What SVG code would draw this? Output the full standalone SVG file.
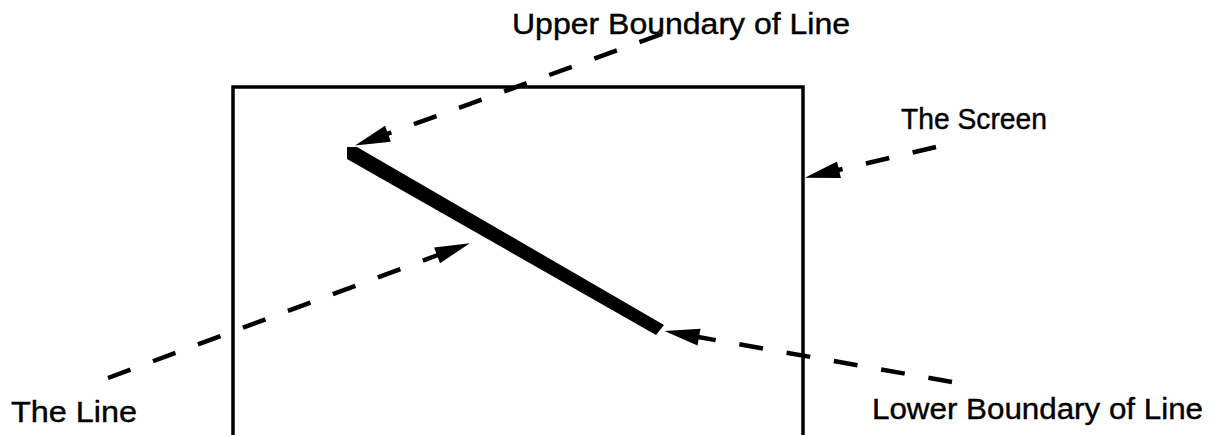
<svg xmlns="http://www.w3.org/2000/svg" width="1225" height="435" viewBox="0 0 1225 435">
  <style>
    .lbl { font-family: "Liberation Sans", Arial, Helvetica, sans-serif; font-size: 29px; fill: #000; stroke: #000; stroke-width: 0.4; }
    .dash { fill: none; stroke: #000; stroke-width: 4.5; stroke-dasharray: 24 24; marker-end: url(#arrow); }
  </style>
  <defs>
    <marker id="arrow" markerUnits="userSpaceOnUse" markerWidth="40" markerHeight="20" refX="1" refY="0" viewBox="-1 -10 40 20" orient="auto" overflow="visible">
      <path d="M35,0 L0,-8.5 L0,8.5 Z" fill="#000"/>
    </marker>
  </defs>
  <rect width="1225" height="435" fill="#fff"/>

  <g id="screen">
    <path d="M233,440 V87 H803 V440" fill="none" stroke="#000" stroke-width="3.5"/>
  </g>

  <g id="line">
    <polygon points="347,147 357,147 664,325 656,335 347,159" fill="#000"/>
  </g>

  <g id="label-upper"><text class="lbl" x="512" y="34" textLength="338" lengthAdjust="spacingAndGlyphs">Upper Boundary of Line</text></g>
  <g id="label-screen"><text class="lbl" x="901" y="129" textLength="146" lengthAdjust="spacingAndGlyphs">The Screen</text></g>
  <g id="label-line"><text class="lbl" x="11" y="422" textLength="126" lengthAdjust="spacingAndGlyphs">The Line</text></g>
  <g id="label-lower"><text class="lbl" x="872" y="419" textLength="331" lengthAdjust="spacingAndGlyphs">Lower Boundary of Line</text></g>

  <g id="connectors">
    <path class="dash" d="M662,34 L387,134"/>
    <path class="dash" d="M936,147 L838,170"/>
    <path class="dash" d="M108,378 L438,255"/>
    <path class="dash" d="M952,382 L698,337"/>
  </g>
</svg>
